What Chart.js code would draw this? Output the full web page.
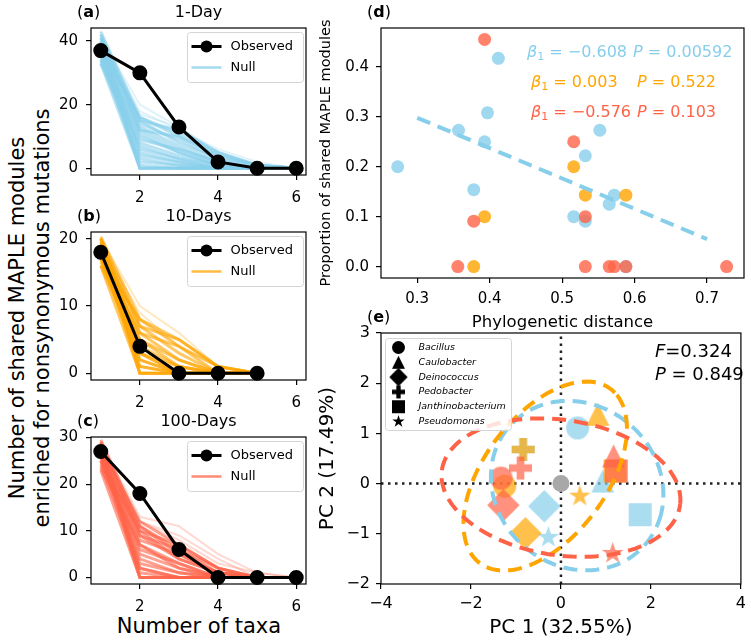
<!DOCTYPE html>
<html>
<head>
<meta charset="utf-8">
<script src="https://cdn.jsdelivr.net/npm/chart.js@4.4.1/dist/chart.umd.min.js"></script>
<style>
  body { margin: 0; background: #fff; width: 751px; height: 640px; overflow: hidden; position: relative; font-family: 'DejaVu Sans', sans-serif; }
  canvas { position: absolute; }
  .lbl { position: absolute; color: #000; font-size: 21px; text-align: center; white-space: nowrap; }
</style>
</head>
<body>
<div class="lbl" id="ylab" style="left:-220px; top:293px; width:500px; height:50px; line-height:25px; transform:rotate(-90deg);">Number of shared MAPLE modules<br>enriched for nonsynonymous mutations</div>
<div class="lbl" style="left:99px; top:613px; width:200px; line-height:26px;">Number of taxa</div>
<canvas id="pa" width="265" height="205" style="left:50px; top:0px"></canvas>
<canvas id="pb" width="265" height="206" style="left:50px; top:204px"></canvas>
<canvas id="pc" width="265" height="205" style="left:50px; top:409px"></canvas>
<canvas id="pd" width="435" height="335" style="left:316px; top:0px"></canvas>
<canvas id="pe" width="435" height="340" style="left:316px; top:300px"></canvas>
<script>
const FONT = "'DejaVu Sans', sans-serif";
Chart.defaults.font.family = FONT;
Chart.defaults.color = '#000';

// ---- panels a-c: shared modules vs number of taxa ----
const taxa = [1, 2, 3, 4, 5, 6];
const taxaTicks = [2, 4, 6];

const observed1 = [37, 30, 13, 2, 0, 0];
const observed10 = [18, 4, 0, 0, 0];
const observed100 = [27, 18, 6, 0, 0, 0];

const null1 = [
  [43, 16, 10, 4, 1, 0], [42, 15, 8, 3, 0, 0], [41, 14, 9, 3, 1, 0], [41, 5, 2, 0, 0, 0],
  [40, 12, 6, 2, 0, 0], [40, 0, 0, 0, 0, 0], [39, 10, 5, 1, 0, 0], [39, 3, 1, 0, 0, 0],
  [38, 8, 4, 1, 0, 0], [38, 1, 0, 0, 0, 0], [37, 16, 11, 5, 1, 0], [37, 6, 3, 0, 0, 0],
  [36, 13, 7, 2, 0, 0], [36, 0, 0, 0, 0, 0], [35, 11, 5, 1, 0, 0], [35, 4, 2, 0, 0, 0],
  [34, 9, 6, 2, 0, 0], [34, 2, 1, 0, 0, 0], [33, 7, 3, 1, 0, 0], [33, 0, 0, 0, 0, 0],
  [42, 12, 10, 4, 1, 0], [39, 15, 12, 5, 1, 0]
];
const null1Faint = [[41, 20, 13, 5, 1, 0], [40, 18, 12, 6, 2, 0], [38, 17, 13, 4, 1, 0]];

const null10 = [
  [20.3, 8, 5, 1, 0], [20, 7, 3, 0, 0], [20, 0, 0, 0, 0], [19.5, 6, 2, 0, 0], [19, 5, 1, 0, 0],
  [19, 2, 0, 0, 0], [18.5, 4, 0, 0, 0], [18, 3, 1, 0, 0], [18, 0, 0, 0, 0], [17.5, 1, 0, 0, 0],
  [17, 2, 0, 0, 0], [17, 6, 4, 1, 0], [16.5, 5, 2, 0, 0], [16, 3, 0, 0, 0], [16, 0, 0, 0, 0],
  [20, 4, 1, 0, 0], [19, 7, 5, 1, 0], [18, 1, 0, 0, 0], [17, 8, 4, 0, 0], [19.5, 3, 0, 0, 0]
];
const null10Faint = [[20, 10, 6, 1, 0], [19, 9, 4, 1, 0]];

const null100 = [
  [29.5, 11, 6, 2, 0, 0], [29, 9, 4, 1, 0, 0], [29, 0, 0, 0, 0, 0], [28.5, 10, 7, 2, 0, 0],
  [28, 7, 3, 0, 0, 0], [28, 2, 0, 0, 0, 0], [27.5, 5, 2, 0, 0, 0], [27, 3, 1, 0, 0, 0],
  [27, 9, 6, 1, 0, 0], [26.5, 1, 0, 0, 0, 0], [26, 11, 5, 1, 0, 0], [26, 0, 0, 0, 0, 0],
  [25.5, 8, 5, 1, 0, 0], [25, 6, 3, 0, 0, 0], [25, 4, 1, 0, 0, 0], [24.5, 10, 4, 1, 0, 0],
  [24, 2, 0, 0, 0, 0], [23.5, 7, 2, 0, 0, 0], [23, 0, 0, 0, 0, 0], [28, 12, 7, 2, 0, 0]
];
const null100Faint = [[29, 13, 11, 5, 1, 0], [28, 12, 8, 3, 1, 0], [27, 12, 9, 4, 0, 0]];

// ---- panel d: proportion shared vs phylogenetic distance ----
const distBlue = [0.273, 0.357, 0.378, 0.393, 0.397, 0.412, 0.516, 0.532, 0.532, 0.552, 0.565, 0.572, 0.588];
const propBlue = [0.200, 0.273, 0.154, 0.250, 0.308, 0.417, 0.100, 0.222, 0.091, 0.273, 0.125, 0.143, 0.0];
const distOrange = [0.378, 0.393, 0.516, 0.532, 0.588];
const propOrange = [0.0, 0.100, 0.200, 0.143, 0.143];
const distRed = [0.393, 0.356, 0.378, 0.516, 0.532, 0.532, 0.565, 0.572, 0.588, 0.727];
const propRed = [0.455, 0.0, 0.091, 0.250, 0.100, 0.0, 0.0, 0.0, 0.0, 0.0];
const fitX = [0.3, 0.7];
const fitY = [0.298, 0.055];
const betaText = ['\u22120.608', '0.003', '\u22120.576'];
const pText = ['0.00592', '0.522', '0.103'];
const distTicks = [0.3, 0.4, 0.5, 0.6, 0.7];
const propTicks = [0.0, 0.1, 0.2, 0.3, 0.4];

// ---- panel e: PCA ----
const species = ['Bacillus', 'Caulobacter', 'Deinococcus', 'Pedobacter', 'Janthinobacterium', 'Pseudomonas'];
const speciesMarker = ['o', '^', 'D', 'P', 's', '*'];
const pc1Blue = [0.37, 0.93, -0.37, -0.84, 1.76, -0.28];
const pc2Blue = [1.11, 0.05, -0.45, 0.68, -0.62, -1.07];
const pc1Orange = [-1.25, 0.82, -0.79, -0.84, 1.20, 0.42];
const pc2Orange = [-0.05, 1.38, -0.99, 0.68, 0.25, -0.25];
const pc1Red = [-1.33, 1.17, -1.28, -0.90, 1.23, 1.15];
const pc2Red = [0.11, 0.55, -0.43, 0.31, 0.25, -1.39];
// confidence ellipses: blue, orange, red
const ellCx = [0.36, -0.35, 0.0];
const ellCy = [-0.04, 0.15, -0.08];
const ellA = [1.95, 2.27, 2.67];
const ellB = [1.65, 1.30, 1.35];
const ellAngle = [-20, 47, -7];
const pcTicksX = [-4, -2, 0, 2, 4];
const pcTicksY = [-2, -1, 0, 1, 2, 3];

const SKY = [135, 206, 235], ORANGE = [255, 165, 0], TOMATO = [255, 99, 71];
const rgba = (c, a) => `rgba(${c[0]},${c[1]},${c[2]},${a})`;
const minus = v => String(v).replace('-', '\u2212');
const pairs = (xs, ys) => xs.map((x, i) => ({ x: x, y: ys[i] }));

function markerCanvas(shape, color, size) {
  const h = size / 2;
  const half = shape === 'D' ? size * 0.7072 : h;
  const dim = Math.ceil(2 * half + 4);
  const c = document.createElement('canvas');
  c.width = dim; c.height = dim;
  const g = c.getContext('2d');
  g.translate(dim / 2, dim / 2);
  g.fillStyle = color;
  g.beginPath();
  if (shape === 'o') g.arc(0, 0, h, 0, Math.PI * 2);
  else if (shape === '^') { g.moveTo(0, -h); g.lineTo(h, h); g.lineTo(-h, h); g.closePath(); }
  else if (shape === 'D') { g.moveTo(0, -half); g.lineTo(half, 0); g.lineTo(0, half); g.lineTo(-half, 0); g.closePath(); }
  else if (shape === 's') g.rect(-h, -h, size, size);
  else if (shape === 'P') {
    const t = h / 3;
    [[-t, -h], [t, -h], [t, -t], [h, -t], [h, t], [t, t], [t, h], [-t, h], [-t, t], [-h, t], [-h, -t], [-t, -t]]
      .forEach(p => g.lineTo(p[0], p[1]));
    g.closePath();
  } else if (shape === '*') {
    for (let k = 0; k < 10; k++) {
      const rr = k % 2 ? h * 0.382 : h;
      const a = -Math.PI / 2 + k * Math.PI / 5;
      g.lineTo(rr * Math.cos(a), rr * Math.sin(a));
    }
    g.closePath();
  }
  g.fill();
  return c;
}

// frame round the plot area + panel label and title
const framePlugin = {
  id: 'frame',
  afterDraw(chart, args, o) {
    const { ctx, chartArea: a } = chart;
    ctx.save();
    ctx.strokeStyle = '#000';
    ctx.lineWidth = 1.2;
    ctx.strokeRect(a.left, a.top, a.right - a.left, a.bottom - a.top);
    if (o.letter) {
      ctx.fillStyle = '#000';
      ctx.textBaseline = 'middle';
      ctx.textAlign = 'left';
      let x = a.left - 14;
      const y = a.top - 15;
      [['(', '16px ' + FONT], [o.letter, 'bold 16px ' + FONT], [')', '16px ' + FONT]].forEach(r => {
        ctx.font = r[1];
        ctx.fillText(r[0], x, y);
        x += ctx.measureText(r[0]).width;
      });
      if (o.title) {
        ctx.font = '16px ' + FONT;
        ctx.textAlign = 'center';
        ctx.fillText(o.title, (a.left + a.right) / 2, y);
      }
    }
    ctx.restore();
  }
};

function roundBox(ctx, x, y, w, h) {
  ctx.beginPath();
  ctx.roundRect(x, y, w, h, 3);
  ctx.fillStyle = 'rgba(255,255,255,0.8)';
  ctx.fill();
  ctx.strokeStyle = '#d4d4d4';
  ctx.lineWidth = 1;
  ctx.stroke();
}

const lineLegendPlugin = {
  id: 'lineLegend',
  afterDraw(chart, args, o) {
    if (!o.color) return;
    const { ctx, chartArea: a } = chart;
    const bx = Math.round(a.right - 119) + 0.5, by = Math.round(a.top + 4) + 0.5;
    ctx.save();
    roundBox(ctx, bx, by, 116, 50);
    const rows = [by + 14, by + 35];
    ctx.lineWidth = 3;
    ctx.strokeStyle = '#000';
    ctx.beginPath(); ctx.moveTo(bx + 4, rows[0]); ctx.lineTo(bx + 34, rows[0]); ctx.stroke();
    ctx.fillStyle = '#000';
    ctx.beginPath(); ctx.arc(bx + 19, rows[0], 6, 0, Math.PI * 2); ctx.fill();
    ctx.lineWidth = 2.5;
    ctx.strokeStyle = rgba(o.color, 0.75);
    ctx.beginPath(); ctx.moveTo(bx + 4, rows[1]); ctx.lineTo(bx + 34, rows[1]); ctx.stroke();
    ctx.fillStyle = '#000';
    ctx.font = '13px ' + FONT;
    ctx.textBaseline = 'middle';
    ctx.fillText('Observed', bx + 43, rows[0]);
    ctx.fillText('Null', bx + 43, rows[1]);
    ctx.restore();
  }
};

Chart.register(framePlugin, lineLegendPlugin);

function axis(min, max, ticks, fit, horizontal, size, pad, fmt) {
  return {
    type: 'linear', min: min, max: max,
    afterBuildTicks: s => { s.ticks = ticks.map(v => ({ value: v })); },
    afterFit: s => { if (horizontal) s.height = fit; else s.width = fit; },
    grid: { drawOnChartArea: false, drawTicks: true, tickLength: 5, color: '#000', lineWidth: 1.2 },
    border: { display: false },
    ticks: { color: '#000', font: { size: size }, padding: pad, maxRotation: 0, autoSkip: false, callback: fmt || (v => minus(v)) }
  };
}

function taxaPanel(id, obs, nulls, faint, color, ymin, ymax, yTicks, letter, title) {
  const n = obs.length;
  const ds = [{
    data: pairs(taxa.slice(0, n), obs), showLine: true, borderColor: '#000', backgroundColor: '#000',
    borderWidth: 3, pointRadius: 6, pointHoverRadius: 6, clip: false
  }];
  nulls.forEach(v => ds.push({
    data: pairs(taxa.slice(0, v.length), v), showLine: true, borderColor: rgba(color, 0.6),
    borderWidth: 3, pointRadius: 0, clip: false
  }));
  faint.forEach(v => ds.push({
    data: pairs(taxa.slice(0, v.length), v), showLine: true, borderColor: rgba(color, 0.25),
    borderWidth: 2, pointRadius: 0, clip: false
  }));
  new Chart(document.getElementById(id), {
    type: 'scatter',
    data: { datasets: ds },
    options: {
      responsive: false, animation: false, events: [],
      layout: { padding: { top: 28, right: 7, left: 0, bottom: 0 } },
      scales: {
        x: axis(0.75, 6.25, taxaTicks, 30, true, 15, 9),
        y: axis(ymin, ymax, yTicks, 41, false, 15, 8)
      },
      plugins: {
        legend: { display: false }, tooltip: { enabled: false },
        frame: { letter: letter, title: title },
        lineLegend: { color: color }
      }
    }
  });
}

taxaPanel('pa', observed1, null1, null1Faint, SKY, -2.1, 44.1, [0, 20, 40], 'a', '1-Day');
taxaPanel('pb', observed10, null10, null10Faint, ORANGE, -1, 21, [0, 10, 20], 'b', '10-Days');
taxaPanel('pc', observed100, null100, null100Faint, TOMATO, -1.4, 30.1, [0, 10, 20, 30], 'c', '100-Days');

// ---- panel d ----
const annoPlugin = {
  id: 'anno',
  afterDatasetsDraw(chart, args, o) {
    if (!o.on) return;
    const { ctx, chartArea: a } = chart;
    const cols = [SKY, ORANGE, TOMATO];
    const betaX = [146, 150, 150], pX = [252, 256, 256], rowY = [25, 55, 85];
    ctx.save();
    ctx.textBaseline = 'middle';
    ctx.textAlign = 'left';
    cols.forEach((c, i) => {
      ctx.fillStyle = rgba(c, 1);
      const runs1 = [['\u03b2', 'italic 16px ' + FONT, 0], ['1', '11px ' + FONT, 4], [' = ' + betaText[i], '16px ' + FONT, 0]];
      const runs2 = [['P', 'italic 16px ' + FONT, 0], [' = ' + pText[i], '16px ' + FONT, 0]];
      [[runs1, betaX[i]], [runs2, pX[i]]].forEach(pr => {
        let x = a.left + pr[1];
        pr[0].forEach(r => {
          ctx.font = r[1];
          ctx.fillText(r[0], x, a.top + rowY[i] + r[2]);
          x += ctx.measureText(r[0]).width;
        });
      });
    });
    ctx.restore();
  }
};

new Chart(document.getElementById('pd'), {
  type: 'scatter',
  data: {
    datasets: [
      { data: pairs(fitX, fitY), showLine: true, borderColor: rgba(SKY, 1), borderWidth: 4, borderDash: [14, 8], pointRadius: 0 },
      { data: pairs(distRed, propRed), backgroundColor: rgba(TOMATO, 0.8), borderWidth: 0, pointRadius: 6.5 },
      { data: pairs(distOrange, propOrange), backgroundColor: rgba(ORANGE, 0.8), borderWidth: 0, pointRadius: 6.5 },
      { data: pairs(distBlue, propBlue), backgroundColor: rgba(SKY, 0.8), borderWidth: 0, pointRadius: 6.5 }
    ]
  },
  options: {
    responsive: false, animation: false, events: [],
    layout: { padding: { top: 28, right: 7, left: 0, bottom: 0 } },
    scales: {
      x: Object.assign(axis(0.25, 0.751, distTicks, 57, true, 15, 7, v => v.toFixed(1)),
        { title: { display: true, text: 'Phylogenetic distance', font: { size: 16.5 }, padding: { top: 0, bottom: 2 } } }),
      y: Object.assign(axis(-0.0228, 0.4778, propTicks, 65, false, 15, 7, v => v.toFixed(1)),
        { title: { display: true, text: 'Proportion of shared MAPLE modules', font: { size: 14.5 }, padding: { top: 2, bottom: 0 } } })
    },
    plugins: {
      legend: { display: false }, tooltip: { enabled: false },
      frame: { letter: 'd' }, anno: { on: true }
    }
  },
  plugins: [annoPlugin]
});

// ---- panel e ----
const ellipsePlugin = {
  id: 'ellipses',
  afterDatasetsDraw(chart, args, o) {
    if (!o.on) return;
    const { ctx } = chart;
    const xs = chart.scales.x, ys = chart.scales.y;
    const cols = [SKY, ORANGE, TOMATO];
    ctx.save();
    ctx.lineWidth = 4;
    ctx.setLineDash([14, 8]);
    [0, 1, 2].forEach(i => {
      const th = ellAngle[i] * Math.PI / 180;
      ctx.strokeStyle = rgba(cols[i], 1);
      ctx.beginPath();
      for (let k = 0; k <= 120; k++) {
        const t = k / 120 * Math.PI * 2;
        const dx = ellA[i] * Math.cos(t), dy = ellB[i] * Math.sin(t);
        const px = xs.getPixelForValue(ellCx[i] + dx * Math.cos(th) - dy * Math.sin(th));
        const py = ys.getPixelForValue(ellCy[i] + dx * Math.sin(th) + dy * Math.cos(th));
        if (k === 0) ctx.moveTo(px, py); else ctx.lineTo(px, py);
      }
      ctx.stroke();
    });
    ctx.restore();
  },
  afterDraw(chart, args, o) {
    if (!o.on) return;
    const { ctx, chartArea: a } = chart;
    ctx.save();
    // F and P statistics
    ctx.fillStyle = '#000';
    ctx.textBaseline = 'middle';
    const statRows = [[['F', 'italic 18px ' + FONT], ['=0.324', '18px ' + FONT]], [['P', 'italic 18px ' + FONT], [' = 0.849', '18px ' + FONT]]];
    statRows.forEach((row, i) => {
      let x = a.right - 86;
      row.forEach(r => { ctx.font = r[1]; ctx.fillText(r[0], x, a.top + 19 + i * 23); x += ctx.measureText(r[0]).width; });
    });
    // species legend
    const bx = Math.round(a.left + 4) + 0.5, by = Math.round(a.top + 5) + 0.5;
    roundBox(ctx, bx, by, 126, 92);
    ctx.fillStyle = '#000';
    ctx.font = 'italic 9.5px ' + FONT;
    species.forEach((s, i) => {
      const y = by + 9 + i * 14.8;
      const img = markerCanvas(speciesMarker[i], '#000', 13);
      ctx.drawImage(img, bx + 13 - img.width / 2, y - img.height / 2);
      ctx.fillText(s, bx + 33, y);
    });
    ctx.restore();
  }
};

function pcaSet(xs, ys, color) {
  return {
    data: pairs(xs, ys),
    pointStyle: speciesMarker.map(m => markerCanvas(m, rgba(color, 0.7), 23)),
    pointRadius: 10, borderWidth: 0, clip: false
  };
}

new Chart(document.getElementById('pe'), {
  type: 'scatter',
  data: {
    datasets: [
      pcaSet(pc1Red, pc2Red, TOMATO),
      pcaSet(pc1Orange, pc2Orange, ORANGE),
      pcaSet(pc1Blue, pc2Blue, SKY),
      { data: [{ x: 0, y: 0 }], backgroundColor: 'rgb(168,168,168)', borderWidth: 0, pointRadius: 8.5 },
      { data: [{ x: 0, y: -2 }, { x: 0, y: 3 }], showLine: true, borderColor: '#222', borderWidth: 2.5, borderDash: [2.5, 4.5], pointRadius: 0 },
      { data: [{ x: -4, y: 0 }, { x: 4, y: 0 }], showLine: true, borderColor: '#222', borderWidth: 2.5, borderDash: [2.5, 4.5], pointRadius: 0 }
    ]
  },
  options: {
    responsive: false, animation: false, events: [],
    layout: { padding: { top: 33, right: 7, left: 0, bottom: 0 } },
    scales: {
      x: Object.assign(axis(-4, 4, pcTicksX, 56, true, 16, 5),
        { title: { display: true, text: 'PC 1 (32.55%)', font: { size: 20 }, padding: { top: 0, bottom: 0 } } }),
      y: Object.assign(axis(-2, 3, pcTicksY, 65, false, 16, 6),
        { title: { display: true, text: 'PC 2 (17.49%)', font: { size: 20 }, padding: { top: 0, bottom: 0 } } })
    },
    plugins: {
      legend: { display: false }, tooltip: { enabled: false },
      frame: { letter: 'e' }, ellipses: { on: true }
    }
  },
  plugins: [ellipsePlugin]
});
</script>
</body>
</html>
